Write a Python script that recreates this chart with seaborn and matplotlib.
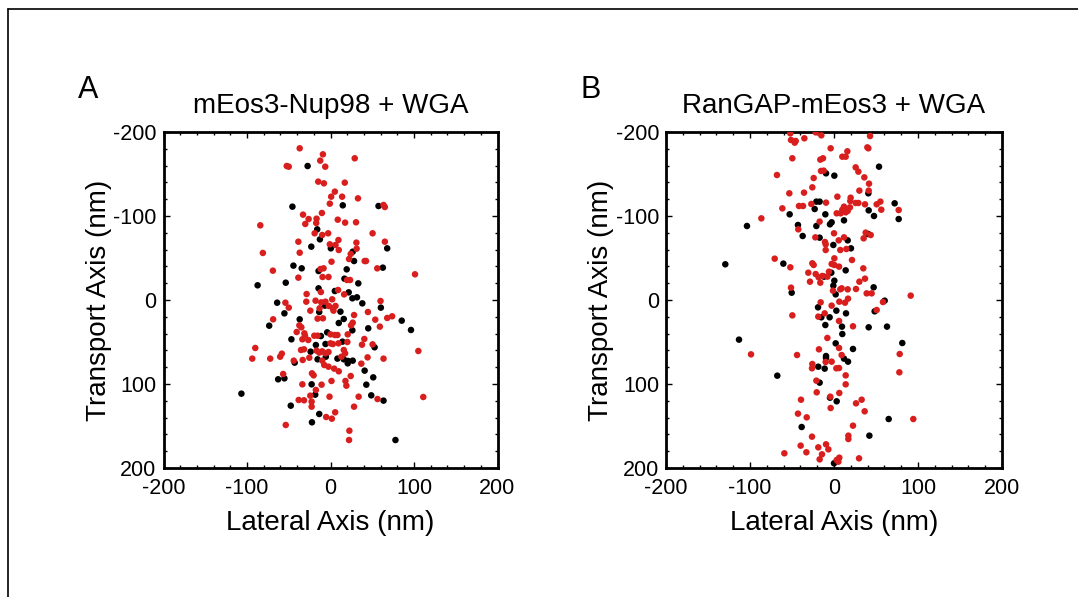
import numpy as np
import pandas as pd
import matplotlib
matplotlib.use("Agg")
import matplotlib.pyplot as plt
from matplotlib.lines import Line2D
from matplotlib.ticker import MultipleLocator
import seaborn as sns

# ---------------- data (nm) ----------------
panel_titles = ["mEos3-Nup98 + WGA", "RanGAP-mEos3 + WGA"]
panel_letters = ["A", "B"]
x_label = "Lateral Axis (nm)"
y_label = "Transport Axis (nm)"
tick_values = [-200, -100, 0, 100, 200]
tick_labels = ["-200", "-100", "0", "100", "200"]

a_red = [(-36.9,-180.6),(-9.1,-173.4),(29,-168.7),(-12.3,-165.9),(-52.4,-159.5),(-50,-158.7),(-6.3,-158.7),
 (-14.7,-140.9),(-7.9,-138.9),(17.1,-139.7),(5.2,-129),(0.8,-123),(13.9,-123),(32.9,-121),(-0.8,-114.7),
 (63.5,-113.1),(65.1,-110.7),(-32.9,-101.6),(-10.3,-103.6),(-84.1,-88.9),(-26.2,-96.4),(-16.7,-96.8),
 (-30.2,-90.5),(-17.1,-91.7),(8.7,-95.6),(17.5,-92.1),(30.6,-92.5),(-19,-79.4),(-9.9,-77.4),(-2.8,-79.4),
 (50.4,-79.4),(-38.5,-69.4),(9.5,-71.4),(-0.8,-66.3),(6,-65.5),(31,-68.3),(65.1,-69.4),(9.9,-59.5),
 (31.3,-61.1),(-81,-56),(-36.9,-56.3),(24.2,-54.8),(22.2,-48.8),(40.9,-46.4),(42.5,-46.4),(1.2,-45.6),
 (-69,-34.9),(-11.9,-36.9),(-8.3,-37.7),(56,-37.7),(101.2,-30.6),(-38.5,-26.6),(-9.5,-27.4),(-2.4,-27.4),
 (19.8,-23.8),(23.4,-23.8),(9.1,-11.9),(-11.5,-9.5),(-28.6,-7.1),(16.3,-6.7),
 (-54,3.2),(-50,9.1),(-29,2),(-17.9,0.8),(-6,2),(2,-0.8),(-2,7.1),(2.8,9.9),(6,7.1),(3.6,12.7),(-11.1,2.8),
 (59.9,1.2),(-24.2,12.7),(-13.1,9.9),(28.2,17.9),(44.8,14.3),(67.9,21.4),(73.8,19.4),(-68.7,23),(-15.5,22.2),
 (-9.1,21.8),(26.6,27),(24.6,30.2),(53.6,23.4),(59.1,31.7),(-37.3,30.2),(-34.9,32.5),(-40.5,38.1),
 (-31.3,39.7),(-33.7,46.8),(-30.6,42.5),(-26.6,47.6),(-19.4,42.5),(-15.5,42.5),(0,40.9),(5.2,41.7),
 (8.3,41.7),(20.6,40.9),(40.5,46.4),(0,51.6),(2.8,52.4),(9.5,51.6),(20.2,50),(37.7,53.2),(50.4,52.8),
 (-90.1,57.1),(-35.3,59.5),(-31.7,58.7),(-16.7,60.3),(-13.5,62.7),(-9.9,61.1),(-6.3,63.5),(-2.4,61.9),
 (15.9,59.5),(17.5,63.5),(105.2,60.7),(-93.7,69.8),(-72.2,69.8),(-60.3,67.5),(-58.3,63.9),(-44,72.2),
 (-33.3,71.4),(-25.4,68.7),(-9.9,72.2),(-7.5,77.4),(-2.4,79.4),(4.4,81.7),(9.9,84.9),(13.1,67.5),
 (36.9,75.8),(44.4,68.3),(63.5,69.8),(-56.7,88.1),(-22.2,87.3),(-20.2,89.7),(24.2,90.5),(1.2,96.4),
 (17.9,96.4),(19,102),(-33.7,100.4),(-10.7,100.8),(-17.5,107.1),(-24.2,113.9),(-1.2,115.1),(33.7,115.1),
 (56.3,117.9),(111.1,115.5),(-38.1,119),(-31.7,119.4),(-22.6,121),(-22.6,127),(28.2,127),(5.6,133.7),
 (-5.2,139.3),(1.6,141.3),(-53.6,148.8),(22.6,155.6),(22.2,166.7)]

a_black = [(-27.4,-159.5),(14.7,-112.7),(-45.6,-111.1),(57.5,-111.9),(-15.9,-84.1),(-12.7,-72.2),(-23,-63.5),
 (0.4,-61.5),(67.9,-61.5),(26.6,-57.5),(28.2,-46.4),(-44.4,-40.9),(-34.5,-37.7),(-14.3,-34.5),(19.4,-36.5),
 (62.7,-38.5),(16.7,-25.4),(-53.6,-20.6),(33.3,-19.8),(-87.3,-17.5),(-14.3,-13.9),(5.2,-10.7),(21.8,-9.1),
 (26.2,-2),(31.7,-3.2),(-63.9,3.2),(38.1,4),(60.3,9.1),(-55.2,15.9),(-13.5,14.3),(11.9,13.9),(85.3,24.6),
 (-73.4,30.6),(-36.9,23),(-6.7,6.7),(15.9,22.6),(9.9,27.4),(45.2,33.7),(96.4,35.7),(26.2,36.1),
 (-46.8,46.8),(-11.5,42.9),(-4,38.5),(-17.5,53.6),(-6,52.4),(14.3,49.6),(52.8,56.3),(-23.8,61.5),
 (-15.5,70.6),(-5.6,67.5),(8.3,69.8),(15.9,70.6),(21,72.6),(26.6,72.2),(20.6,75.4),(-42.9,74.6),
 (40.9,84.1),(-62.7,94.4),(-55.2,93.3),(51.2,92.1),(-22.6,100.4),(42.9,100.8),(-18.3,112.7),
 (-106.7,111.5),(48.8,113.5),(63.5,119.8),(-47.6,125.8),(-13.5,135.7),(-22.2,145.6),(77.8,166.7)]

b_red = [(-52,-198.4),(-21.8,-199.6),(-15.1,-196),(-35.3,-192.5),(-51.2,-190.5),(-46.8,-187.3),(-45.6,-189.3),
 (42.9,-195.2),(-4,-180.6),(39.7,-181.7),(40.9,-180.6),(15.9,-177),(9.9,-170.6),(13.9,-170.6),(-49.6,-168.7),
 (-16.3,-167.1),(-13.1,-168.7),(25.8,-157.9),(29,-152.8),(-15.5,-153.6),(-12.3,-154),(-67.9,-148.8),
 (36.1,-146),(-24.2,-145.2),(41.7,-138.5),(-25.8,-134.1),(41.3,-130.2),(30.2,-130.2),(-53.2,-127),
 (-35.7,-127.8),(4,-123),(19.8,-121.8),(19.4,-117.9),(-27,-114.3),(-9.5,-115.9),(-41.7,-111.9),
 (-36.9,-111.9),(-61.5,-109.1),(25.8,-115.5),(29,-115.5),(36.9,-113.9),(50.8,-113.9),(55.2,-117.1),
 (56.3,-107.5),(11.9,-111.1),(9.9,-107.5),(7.9,-103.2),(13.9,-104.4),(16.3,-106),(3.2,-103.2),(19,-110.3),
 (77,-107.1),(-86.5,-97.2),(-17.1,-93.3),(-42.5,-84.1),(37.7,-80.2),(43.7,-77.4),(35.3,-73.4),(0,-79.4),
 (11.9,-74.6),(5.6,-71),(-22.2,-74.6),(-10.7,-69),(-9.9,-66.3),(-9.9,-59.5),(7.5,-59.5),(14.7,-60.7),
 (21.4,-47.6),(0.4,-49.6),(-70.6,-49.2),(-52,-38.9),(-25.8,-43.7),(-24.2,-41.7),(-2.8,-42.9),(0.4,-41.7),
 (6,-39.7),(34.9,-37.7),(-30.6,-32.5),(-21.8,-30.9),(-18.3,-27),(-13.9,-28.6),(-6,-33.7),(-7.9,-27.8),
 (-28.6,-21.8),(-16.3,-20.6),(36.9,-25.4),(30.2,-21.8),(7.5,-12.7),(9.1,-13.9),(16.3,-12.7),(26.2,-13.1),
 (-1.2,-11.1),(-51.2,-14.7),(38.9,-7.9),(44.8,-7.9),(91.3,-5.2),(58.3,2.4),(-15.9,2.8),(6.3,2),(13.1,3.2),
 (16.7,-1.6),(-2.8,6.7),(-49.6,18.3),(-18.7,19.8),(-11.1,15.9),(6,25),(22.6,31.3),(50.8,11.9),(-7.9,45.2),
 (6,57.1),(-17.9,58.7),(-98.8,64.7),(-44,65.5),(9.1,65.5),(78.2,64.3),(-9.9,73.8),(-2.8,73.4),(-25.8,76.2),
 (-26.2,81.3),(2.8,81.3),(6,81),(77.8,86.1),(13.9,89.7),(-21,96),(13.9,100.4),(-20.6,109.9),(6.3,110.7),
 (-39.3,118.7),(-4.4,115.1),(32.9,118.7),(26.2,123),(-4,128.6),(36.5,132.5),(-42.9,135.3),(-32.5,139.7),
 (94.4,141.7),(22.6,149.6),(-26.2,162.7),(17.1,161.5),(17.1,165.5),(-39.7,173.4),(-9.5,171.8),
 (-18.7,175.4),(-6.7,177.8),(-32.9,181.3),(-14.3,183.7),(-59.1,182.5),(-17.1,189.7),(6.3,187.7),
 (3.2,190.5),(5.2,192.5),(29.8,188.5)]

b_black = [(53.6,-158.7),(-9.5,-150.8),(0.4,-148),(40.9,-127),(-21,-117.1),(-17.1,-117.1),(-23,-108.3),
 (41.3,-106.7),(72.2,-115.1),(77,-96.4),(47.6,-100),(-52.8,-102),(-10.3,-102),(11.9,-94.8),(-103.6,-88.1),
 (-2.8,-92.5),(-4.8,-90.1),(-42.9,-89.3),(-21,-88.1),(-37.3,-76.2),(40.5,-78.6),(-17.1,-74.2),(16.3,-71),
 (-0.8,-65.5),(20.2,-61.5),(-129.4,-42.5),(-60.3,-43.3),(13.9,-35.3),(-3.2,-32.5),(-11.9,-27.8),(0.4,-23),
 (-0.8,-17.1),(2,-6.7),(-50.4,-8.7),(47.2,-15.1),(60.3,0.8),(-19,8.7),(2.8,12.7),(14.3,15.9),(-15.1,20.6),
 (-5.2,20.6),(-10.3,29.8),(9.5,31.7),(41.3,32.5),(48.4,13.5),(63.1,31.7),(9.9,40.5),(-113.1,47.2),
 (2,51.6),(81.3,51.2),(22.6,58.3),(-9.5,66.7),(-9.5,69),(11.9,69.8),(16.7,73.4),(-18.7,79.4),(-11.1,81.7),
 (-67.5,90.1),(-17.1,98.4),(-4.8,116.3),(3.2,120.6),(65.1,141.7),(-38.5,151.2),(42.1,161.5),(0,194.4)]

# ---------------- style ----------------
sns.set_style("ticks")
plt.rcParams["font.family"] = ["Liberation Sans", "DejaVu Sans"]
plt.rcParams["text.color"] = "black"
plt.rcParams["axes.labelcolor"] = "black"
plt.rcParams["xtick.color"] = "black"
plt.rcParams["ytick.color"] = "black"

RED = "#d91e1e"
BLACK = "#000000"

W, H = 1078, 597
fig = plt.figure(figsize=(W / 100, H / 100), dpi=100)
fig.patch.set_facecolor("white")

ax_boxes = [(163.5, 132, 334, 336), (666, 132, 336, 336)]
panels = [(a_red, a_black), (b_red, b_black)]


def make_df(red, black):
    rows = [(x, y, "black") for x, y in black] + [(x, y, "red") for x, y in red]
    return pd.DataFrame(rows, columns=["lateral", "transport", "group"])


for i, ((red, black), (l, t, w, h)) in enumerate(zip(panels, ax_boxes)):
    ax = fig.add_axes([l / W, 1 - (t + h) / H, w / W, h / H])
    df = make_df(red, black)
    sns.scatterplot(data=df, x="lateral", y="transport", hue="group",
                    palette={"red": RED, "black": BLACK}, s=22, linewidth=0,
                    edgecolor="none", legend=False, ax=ax, zorder=3)
    ax.set_xlim(-200, 200)
    ax.set_ylim(200, -200)
    ax.set_xticks(tick_values)
    ax.set_xticklabels(tick_labels)
    ax.set_yticks(tick_values)
    ax.set_yticklabels(tick_labels)
    ax.xaxis.set_minor_locator(MultipleLocator(20))
    ax.yaxis.set_minor_locator(MultipleLocator(20))
    ax.tick_params(which="both", direction="in", top=True, right=True,
                   labelsize=15.5, width=1.0, color="black", labelcolor="black")
    ax.tick_params(which="major", length=4.5)
    ax.tick_params(axis="x", which="major", pad=7)
    ax.tick_params(axis="y", which="major", pad=5)
    ax.tick_params(which="minor", length=2.5)
    for sp in ax.spines.values():
        sp.set_linewidth(2.0)
        sp.set_color("black")
    ax.set_xlabel(x_label, fontsize=20, labelpad=8)
    ax.set_ylabel(y_label, fontsize=20, labelpad=1)
    ax.set_title(panel_titles[i], fontsize=20, pad=14, color="black")
    ax.grid(False)
    fig.text((l - 75) / W, 1 - 90.5 / H, panel_letters[i], fontsize=22,
             ha="center", va="center", color="black")

# frame lines at top and left edges
fig.add_artist(Line2D([7.5 / W, 1.0], [1 - 9 / H, 1 - 9 / H], transform=fig.transFigure,
                      color="black", lw=1.2))
fig.add_artist(Line2D([7.5 / W, 7.5 / W], [0.0, 1 - 9 / H], transform=fig.transFigure,
                      color="black", lw=1.2))

fig.savefig("out.png", dpi=100, facecolor="white")
